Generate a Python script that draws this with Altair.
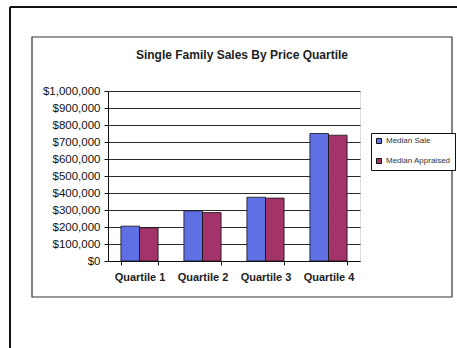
import altair as alt
import pandas as pd

quartiles = ["Quartile 1", "Quartile 2", "Quartile 3", "Quartile 4"]
series = ["Median Sale", "Median Appraised"]
median_sale = [205000, 295000, 375000, 750000]
median_appraised = [195000, 285000, 370000, 740000]
y_ticks = [0, 100000, 200000, 300000, 400000, 500000, 600000, 700000, 800000, 900000, 1000000]
colors = ["#5f70e4", "#a3346a"]

rows = []
for i, q in enumerate(quartiles):
    rows.append({"quartile": q, "series": series[0], "value": median_sale[i]})
    rows.append({"quartile": q, "series": series[1], "value": median_appraised[i]})
df = pd.DataFrame(rows)

W, H = 252, 170
PL, PT = 108, 91

bars = alt.Chart(df).mark_bar(stroke="#111", strokeWidth=0.8).encode(
    x=alt.X("quartile:N", sort=quartiles, title=None,
            scale=alt.Scale(paddingInner=0.41, paddingOuter=0.205),
            axis=alt.Axis(labelAngle=0, tickBand="extent", labelFont="Liberation Sans",
                          labelFontSize=11, labelFontWeight="bold", labelColor="#222",
                          tickSize=4, labelPadding=6, domainColor="#111", tickColor="#111")),
    xOffset=alt.XOffset("series:N", sort=series),
    y=alt.Y("value:Q", title=None,
            scale=alt.Scale(domain=[0, 1000000], nice=False),
            axis=alt.Axis(values=y_ticks, format="$,.0f", labelFont="Liberation Sans",
                          labelFontSize=11.5, labelColor="#111", tickSize=4, labelPadding=4,
                          grid=True, gridColor="#2a2a2a", gridWidth=1.1,
                          domainColor="#111", tickColor="#111")),
    color=alt.Color("series:N", sort=series,
                    scale=alt.Scale(domain=series, range=colors),
                    legend=alt.Legend(title=None, orient="none", legendX=263, legendY=42,
                                      symbolType="square", symbolSize=25,
                                      symbolStrokeColor="#111", symbolStrokeWidth=1,
                                      labelFont="Liberation Sans", labelFontSize=8,
                                      labelColor="#333", rowPadding=10, padding=4,
                                      labelOffset=3,
                                      strokeColor="#111", fillColor="white",
                                      labelLimit=200)),
)

frame_data = alt.Data(values=[{"a": 1}])

inner_frame = alt.Chart(frame_data).mark_rect(fill=None, stroke="#333", strokeWidth=1.2).encode(
    x=alt.value(32 - PL), x2=alt.value(452 - PL),
    y=alt.value(37 - PT), y2=alt.value(297 - PT),
)
outer_top = alt.Chart(frame_data).mark_rule(stroke="#111", strokeWidth=2).encode(
    x=alt.value(10 - PL), x2=alt.value(470 - PL), y=alt.value(7 - PT),
)
outer_left = alt.Chart(frame_data).mark_rule(stroke="#111", strokeWidth=2).encode(
    x=alt.value(10 - PL), y=alt.value(7 - PT), y2=alt.value(360 - PT),
)

chart = alt.layer(inner_frame, outer_top, outer_left, bars).properties(
    width=W, height=H,
    title=alt.TitleParams("Single Family Sales By Price Quartile", font="Liberation Sans",
                          fontSize=12, fontWeight="bold", color="#222",
                          anchor="middle", offset=-56, dx=8),
    autosize=alt.AutoSizeParams(type="none"),
    padding={"left": PL, "top": PT, "right": 457 - PL - W, "bottom": 348 - PT - H},
).configure_view(fill="#c0c0c0", stroke=None).configure(background="white")

chart.save("out.html", embed_options={"renderer": "svg", "actions": False})
